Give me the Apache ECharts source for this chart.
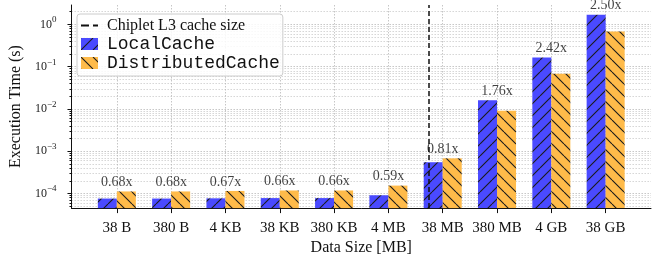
<!DOCTYPE html>
<html>
<head>
<meta charset="utf-8">
<script src="https://cdn.jsdelivr.net/npm/echarts@6/dist/echarts.min.js"></script>
<style>
  html, body { margin: 0; padding: 0; background: #fff; }
  #chart { width: 655px; height: 261px; }
</style>
</head>
<body>
<div id="chart"></div>
<script>
const categories = ['38 B', '380 B', '4 KB', '38 KB', '380 KB', '4 MB', '38 MB', '380 MB', '4 GB', '38 GB']
const localCache = [7.6e-5, 7.6e-5, 7.7e-5, 7.8e-5, 7.8e-5, 9.1e-5, 5.5e-4, 1.6e-2, 0.165, 1.7]
const distributedCache = [1.12e-4, 1.12e-4, 1.15e-4, 1.18e-4, 1.18e-4, 1.54e-4, 6.8e-4, 9.1e-3, 0.068, 0.68]
const speedups = ['0.68x', '0.68x', '0.67x', '0.66x', '0.66x', '0.59x', '0.81x', '1.76x', '2.42x', '2.50x']
const majorTicks = [1e-4, 1e-3, 1e-2, 1e-1, 1]
const l3CacheAt = 5.75

const SERIF = '"Liberation Serif", "DejaVu Serif", serif'
const MONO = '"Liberation Mono", "DejaVu Sans Mono", monospace'
const BLUE = '#4a4aff'
const ORANGE = '#ffbb4a'
const HATCH = '#1c1c1c'
const Y_MIN = 4.52e-5
const Y_MAX = 2.88
const BAR_W = 0.35

// minor log ticks 2..9 x 10^k
const minorTicks = []
for (let k = -5; k <= 0; k++) {
  for (let m = 2; m <= 9; m++) {
    const v = m * Math.pow(10, k)
    if (v >= Y_MIN && v <= Y_MAX) minorTicks.push(v)
  }
}
const catIndex = categories.map((_, i) => i)

// hatch tile, forward = '/' , otherwise '\'
function hatchCanvas(color, forward) {
  const S = 12
  const c = document.createElement('canvas')
  c.width = S
  c.height = S
  const ctx = c.getContext('2d')
  ctx.fillStyle = color
  ctx.fillRect(0, 0, S, S)
  ctx.strokeStyle = HATCH
  ctx.lineWidth = 1.1
  ctx.beginPath()
  for (let k = -1; k <= 1; k++) {
    const o = k * S
    if (forward) {
      ctx.moveTo(o, S)
      ctx.lineTo(o + S, 0)
    } else {
      ctx.moveTo(o, 0)
      ctx.lineTo(o + S, S)
    }
  }
  ctx.stroke()
  return c
}

function dashIcon() {
  const c = document.createElement('canvas')
  c.width = 17
  c.height = 12
  const ctx = c.getContext('2d')
  ctx.strokeStyle = '#111'
  ctx.lineWidth = 2
  ctx.setLineDash([8, 4])
  ctx.beginPath()
  ctx.moveTo(0, 6)
  ctx.lineTo(17, 6)
  ctx.stroke()
  return c
}

function swatch(color, forward) {
  const c = document.createElement('canvas')
  c.width = 17
  c.height = 12
  const ctx = c.getContext('2d')
  ctx.fillStyle = ctx.createPattern(hatchCanvas(color, forward), 'repeat')
  ctx.fillRect(0, 0, 17, 12)
  return c
}

const bluePattern = { image: hatchCanvas(BLUE, true), repeat: 'repeat' }
const orangePattern = { image: hatchCanvas(ORANGE, false), repeat: 'repeat' }

function barItem(side, pattern) {
  return function (params, api) {
    const x = api.value(0)
    const v = api.value(1)
    const top = api.coord([x, v])
    const w = api.coord([x + BAR_W, v])[0] - top[0]
    const bottom = params.coordSys.y + params.coordSys.height
    const left = side < 0 ? top[0] - w : top[0]
    return {
      type: 'rect',
      shape: { x: left, y: top[1], width: w, height: bottom - top[1] },
      style: { fill: pattern },
    }
  }
}

function expLabel(v) {
  const e = Math.round(Math.log10(v))
  return '{b|10}{s|' + (e < 0 ? '\u2212' + (-e) : e) + '}'
}

const chart = echarts.init(document.getElementById('chart'), null, { renderer: 'canvas' })

const gridLine = { color: '#b8b8b8', type: [1.5, 1.5], width: 0.8 }

chart.setOption({
  animation: false,
  grid: { left: 67, right: 4, top: 5, bottom: 47 },
  legend: {
    orient: 'vertical',
    left: 77,
    top: 14,
    padding: [3, 3, 4, 4],
    itemWidth: 17,
    itemHeight: 12,
    itemGap: 1,
    backgroundColor: 'rgba(255,255,255,0.85)',
    borderColor: '#cccccc',
    borderWidth: 1,
    borderRadius: 3,
    textStyle: { color: '#111', lineHeight: 17, padding: [0, 0, 0, 4] },
    data: [
      { name: 'Chiplet L3 cache size', icon: 'image://' + dashIcon().toDataURL(), textStyle: { fontFamily: SERIF, fontSize: 16 } },
      { name: 'LocalCache', icon: 'image://' + swatch(BLUE, true).toDataURL(), textStyle: { fontFamily: MONO, fontSize: 18 } },
      { name: 'DistributedCache', icon: 'image://' + swatch(ORANGE, false).toDataURL(), textStyle: { fontFamily: MONO, fontSize: 18 } },
    ],
  },
  xAxis: {
    type: 'value',
    min: -0.835,
    max: 9.835,
    name: 'Data Size [MB]',
    nameLocation: 'middle',
    nameGap: 28,
    nameTextStyle: { fontFamily: SERIF, fontSize: 16, color: '#111' },
    axisLine: { show: true, onZero: false, lineStyle: { color: '#111', width: 1 } },
    axisTick: { show: true, length: 5, customValues: catIndex, lineStyle: { color: '#111' } },
    axisLabel: {
      customValues: catIndex,
      margin: 12,
      fontFamily: SERIF,
      fontSize: 15,
      color: '#111',
      formatter: (v) => categories[Math.round(v)],
    },
    splitLine: { show: true, lineStyle: gridLine },
  },
  yAxis: [
    {
      type: 'log',
      min: Y_MIN,
      max: Y_MAX,
      name: 'Execution Time (s)',
      nameLocation: 'middle',
      nameGap: 40,
      nameTextStyle: { fontFamily: SERIF, fontSize: 16, color: '#111' },
      axisLine: { show: true, onZero: false, lineStyle: { color: '#111', width: 1 } },
      axisTick: { show: true, length: 4, customValues: majorTicks, lineStyle: { color: '#111' } },
      axisLabel: {
        customValues: majorTicks,
        margin: 15,
        color: '#222',
        formatter: expLabel,
        rich: {
          b: { fontFamily: SERIF, fontSize: 12, color: '#222' },
          s: { fontFamily: SERIF, fontSize: 9, color: '#222', padding: [0, 0, 9, 0] },
        },
      },
      splitLine: { show: true, lineStyle: gridLine },
    },
    {
      type: 'log',
      min: Y_MIN,
      max: Y_MAX,
      position: 'left',
      axisLine: { show: false, onZero: false },
      axisTick: { show: true, length: 2, customValues: minorTicks, lineStyle: { color: '#111' } },
      axisLabel: { show: false },
      splitLine: { show: true, lineStyle: { color: '#c4c4c4', type: [1.5, 1.5], width: 0.7 } },
    },
  ],
  series: [
    {
      name: 'Chiplet L3 cache size',
      type: 'line',
      data: [],
      symbol: 'none',
      lineStyle: { color: '#111', width: 1.5, type: [5, 3] },
      itemStyle: { color: '#111' },
      markLine: {
        silent: true,
        symbol: 'none',
        label: { show: false },
        lineStyle: { color: '#111', width: 1.5, type: [5, 3] },
        data: [{ xAxis: l3CacheAt }],
      },
      z: 5,
    },
    {
      name: 'LocalCache',
      type: 'custom',
      renderItem: barItem(-1, bluePattern),
      itemStyle: { color: BLUE },
      data: localCache.map((v, i) => [i, v]),
      z: 3,
    },
    {
      name: 'DistributedCache',
      type: 'custom',
      renderItem: barItem(1, orangePattern),
      itemStyle: { color: ORANGE },
      data: distributedCache.map((v, i) => [i, v]),
      z: 3,
    },
    {
      name: 'speedup',
      type: 'scatter',
      symbolSize: 0,
      silent: true,
      data: localCache.map((v, i) => [i, Math.max(v, distributedCache[i])]),
      label: {
        show: true,
        position: 'top',
        distance: 2,
        fontFamily: SERIF,
        fontSize: 14,
        color: '#111',
        formatter: (p) => speedups[p.dataIndex],
      },
      z: 4,
    },
  ],
})
</script>
</body>
</html>
